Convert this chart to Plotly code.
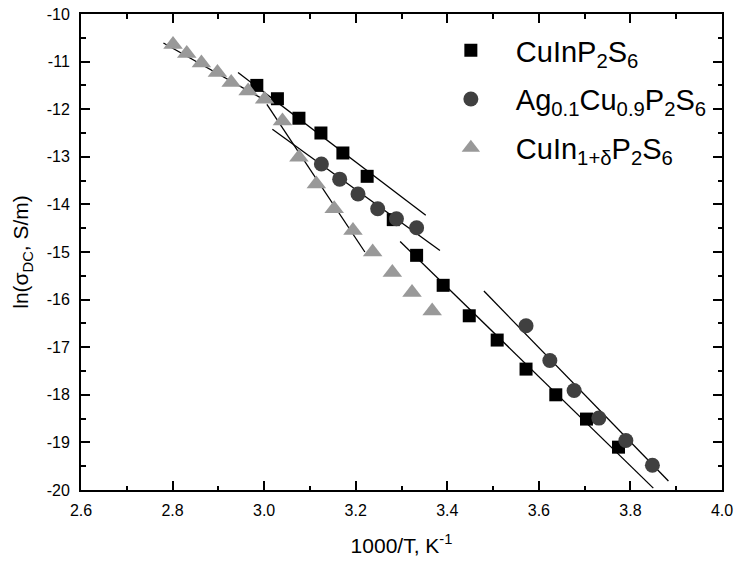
import plotly.graph_objects as go

# CuInP2S6
sq_x = [2.984, 3.029, 3.076, 3.124, 3.172, 3.225, 3.282, 3.333, 3.391,
        3.448, 3.509, 3.572, 3.637, 3.704, 3.774]
sq_y = [-11.50, -11.78, -12.19, -12.50, -12.92, -13.41, -14.32, -15.07, -15.70,
        -16.34, -16.85, -17.46, -18.00, -18.51, -19.10]

# Ag0.1Cu0.9P2S6
ci_x = [3.125, 3.165, 3.205, 3.248, 3.289, 3.333,
        3.572, 3.624, 3.677, 3.731, 3.790, 3.848]
ci_y = [-13.15, -13.47, -13.78, -14.09, -14.30, -14.49,
        -16.55, -17.28, -17.91, -18.49, -18.96, -19.48]

# CuIn1+dP2S6
tr_x = [2.801, 2.831, 2.863, 2.898, 2.928, 2.965, 3.001, 3.040,
        3.076, 3.114, 3.153, 3.194, 3.237, 3.280, 3.323, 3.367]
tr_y = [-10.64, -10.83, -11.03, -11.23, -11.44, -11.62, -11.79, -12.25,
        -13.01, -13.57, -14.09, -14.55, -15.00, -15.43, -15.85, -16.24]

# Linear (Arrhenius) fit segments: [x_start, x_end], [y_start, y_end]
fit_sq_hi_x, fit_sq_hi_y = [2.943, 3.353], [-11.23, -14.23]
fit_sq_lo_x, fit_sq_lo_y = [3.297, 3.850], [-14.78, -19.96]
fit_ci_hi_x, fit_ci_hi_y = [3.018, 3.384], [-12.42, -14.97]
fit_ci_lo_x, fit_ci_lo_y = [3.480, 3.883], [-15.82, -19.81]
fit_tr_hi_x, fit_tr_hi_y = [2.780, 3.005], [-10.61, -11.83]
fit_tr_lo_x, fit_tr_lo_y = [3.006, 3.220], [-11.90, -15.00]

# Axis ticks
x_ticks = [2.6, 2.8, 3.0, 3.2, 3.4, 3.6, 3.8, 4.0]
x_tick_text = ["2.6", "2.8", "3.0", "3.2", "3.4", "3.6", "3.8", "4.0"]
y_ticks = [-10, -11, -12, -13, -14, -15, -16, -17, -18, -19, -20]
y_tick_text = ["-10", "-11", "-12", "-13", "-14", "-15", "-16", "-17", "-18", "-19", "-20"]

FONT = "Arial, Liberation Sans, sans-serif"

fig = go.Figure()

# fit lines first so the markers sit on top
for fx, fy in [(fit_sq_hi_x, fit_sq_hi_y), (fit_sq_lo_x, fit_sq_lo_y),
               (fit_ci_hi_x, fit_ci_hi_y), (fit_ci_lo_x, fit_ci_lo_y),
               (fit_tr_hi_x, fit_tr_hi_y), (fit_tr_lo_x, fit_tr_lo_y)]:
    fig.add_trace(go.Scatter(x=fx, y=fy, mode="lines",
                             line=dict(color="black", width=1.3),
                             showlegend=False, hoverinfo="skip"))

fig.add_trace(go.Scatter(x=sq_x, y=sq_y, mode="markers", name="CuInP<sub>2</sub>S<sub>6</sub>",
                         legendgroup="a",
                         marker=dict(symbol="square", size=13, color="black", line=dict(width=0))))
fig.add_trace(go.Scatter(x=ci_x, y=ci_y, mode="markers",
                         name="Ag<sub>0.1</sub>Cu<sub>0.9</sub>P<sub>2</sub>S<sub>6</sub>",
                         legendgroup="b",
                         marker=dict(symbol="circle", size=15, color="#404040", line=dict(width=0))))
fig.add_trace(go.Scatter(x=tr_x, y=tr_y, mode="markers",
                         name="CuIn<sub>1+δ</sub>P<sub>2</sub>S<sub>6</sub>",
                         legendgroup="c",
                         marker=dict(symbol="triangle-up", size=17, color="#999999", line=dict(width=0))))

axis_common = dict(
    showline=True, linecolor="black", linewidth=2, mirror="ticks",
    ticks="inside", ticklen=9, tickwidth=1.5, tickcolor="black",
    showgrid=False, zeroline=False, automargin=False,
    tickfont=dict(family=FONT, size=16, color="black"),
)

fig.update_xaxes(range=[2.6, 4.0], tickvals=x_ticks, ticktext=x_tick_text,
                 minor=dict(dtick=0.1, ticks="inside", ticklen=4.5, tickwidth=1.5, tickcolor="black"),
                 ticklabelstandoff=5,
                 title=dict(text="1000/T, K<sup>-1</sup>", font=dict(family=FONT, size=21, color="black"),
                            standoff=20),
                 **axis_common)
fig.update_yaxes(range=[-20, -10], tickvals=y_ticks, ticktext=y_tick_text,
                 minor=dict(dtick=0.5, ticks="inside", ticklen=4.5, tickwidth=1.5, tickcolor="black"),
                 ticklabelstandoff=6,
                 title=dict(text="ln(σ<sub>DC</sub>, S/m)", font=dict(family=FONT, size=21, color="black"),
                            standoff=12),
                 **axis_common)

fig.update_layout(
    width=738, height=562,
    margin=dict(l=81, r=16, t=14, b=72),
    paper_bgcolor="white", plot_bgcolor="white",
    font=dict(family=FONT, color="black"),
    legend=dict(x=0.538, y=0.977, xanchor="left", yanchor="top",
                itemwidth=80, traceorder="grouped", tracegroupgap=8,
                font=dict(family=FONT, size=29, color="black"),
                bgcolor="rgba(0,0,0,0)", borderwidth=0),
)

fig.write_html("out.html")
